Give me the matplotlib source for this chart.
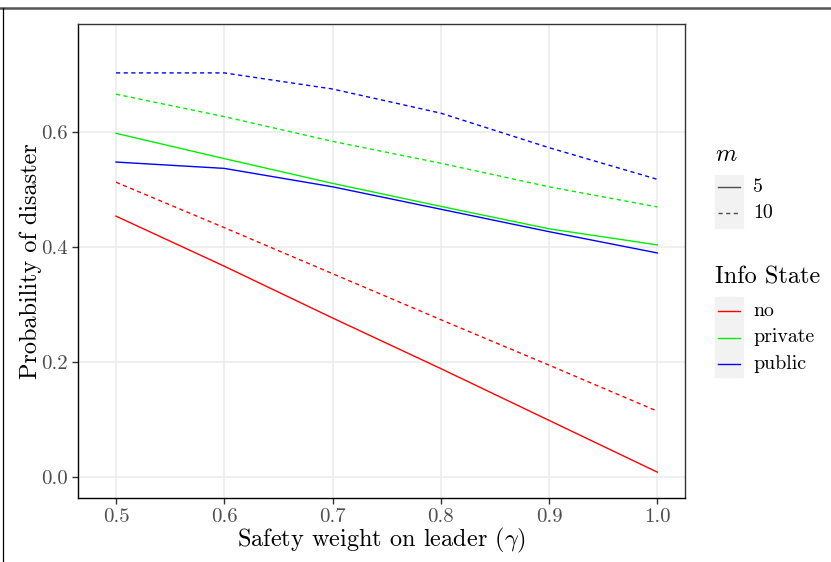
import matplotlib
matplotlib.use("Agg")
import matplotlib.pyplot as plt
from matplotlib.lines import Line2D
from matplotlib.patches import Rectangle

plt.rcParams['font.family'] = ['cmr10', 'DejaVu Serif']
plt.rcParams['mathtext.fontset'] = 'cm'
plt.rcParams['axes.formatter.use_mathtext'] = True

# data
gamma = [0.5, 0.6, 0.7, 0.8, 0.9, 1.0]
states = ['no', 'private', 'public']
m_levels = ['5', '10']
colors = {'no': '#FF0000', 'private': '#00EE00', 'public': '#0000FF'}
styles = {'5': '-', '10': (0, (3, 2.5))}

p_disaster = {
    ('no', '5'):       [0.454, 0.367, 0.277, 0.189, 0.099, 0.009],
    ('no', '10'):      [0.513, 0.434, 0.354, 0.274, 0.195, 0.115],
    ('private', '5'):  [0.598, 0.554, 0.511, 0.471, 0.432, 0.404],
    ('private', '10'): [0.666, 0.627, 0.584, 0.546, 0.505, 0.470],
    ('public', '5'):   [0.548, 0.537, 0.505, 0.466, 0.427, 0.390],
    ('public', '10'):  [0.703, 0.703, 0.675, 0.633, 0.573, 0.518],
}

W, H = 831, 562
fig = plt.figure(figsize=(W / 100, H / 100), dpi=100)
ax = fig.add_axes([77.7 / W, 1 - 498 / H, (684.7 - 77.7) / W, (498 - 24) / H])

for s in states:
    for m in m_levels:
        ax.plot(gamma, p_disaster[(s, m)], color=colors[s], linestyle=styles[m], lw=1.0)

ax.set_xlim(0.4646, 1.0253)
ax.set_ylim(-0.036, 0.788)
ax.set_xticks([0.5, 0.6, 0.7, 0.8, 0.9, 1.0])
ax.set_yticks([0.0, 0.2, 0.4, 0.6])
ax.set_xticklabels(['0.5', '0.6', '0.7', '0.8', '0.9', '1.0'])
ax.set_yticklabels(['0.0', '0.2', '0.4', '0.6'])
ax.grid(True, color='#EBEBEB', lw=1.1)
ax.set_axisbelow(True)
ax.tick_params(colors='#333333', labelcolor='#4D4D4D', labelsize=15, length=4, width=1, pad=3)
for side in ['top', 'right']:
    ax.spines[side].set_color('#333333')
    ax.spines[side].set_linewidth(1.0)
for side in ['left', 'bottom']:
    ax.spines[side].set_color('black')
    ax.spines[side].set_linewidth(1.0)

ax.set_xlabel(r'Safety weight on leader ($\gamma$)', fontsize=17.5, labelpad=0)
ax.set_ylabel('Probability of disaster', fontsize=17.5, labelpad=-0.5)


def fx(x):
    return x / W


def fy(y):
    return 1 - y / H


# outer frame
fig.add_artist(Line2D([0, 1], [fy(7.5), fy(7.5)], color='#555555', lw=1.8, transform=fig.transFigure))
fig.add_artist(Line2D([fx(3.5), fx(3.5)], [fy(7.5), 0], color='black', lw=0.9, transform=fig.transFigure))

# legend: m
fig.text(fx(715), fy(155), '$m$', fontsize=17.5, va='center', ha='left')
fig.add_artist(Rectangle((fx(715), fy(228)), fx(28), 53 / H, color='#F2F2F2', transform=fig.transFigure, zorder=0))
for i, m in enumerate(m_levels):
    yy = 187 + 26 * i
    fig.add_artist(Line2D([fx(718), fx(740)], [fy(yy), fy(yy)], color='#4D4D4D', linestyle=styles[m], lw=1.0,
                          transform=fig.transFigure))
    fig.text(fx(753), fy(yy), m, fontsize=14.3, va='center', ha='left')

# legend: info state
fig.text(fx(715), fy(277), 'Info State', fontsize=17.5, va='center', ha='left')
fig.add_artist(Rectangle((fx(715), fy(377)), fx(28), 80 / H, color='#F2F2F2', transform=fig.transFigure, zorder=0))
for i, s in enumerate(states):
    yy = 311 + 26.5 * i
    fig.add_artist(Line2D([fx(718), fx(740)], [fy(yy), fy(yy)], color=colors[s], lw=1.0,
                          transform=fig.transFigure))
    fig.text(fx(753), fy(yy), s, fontsize=14.3, va='center', ha='left')

fig.savefig('out.png', dpi=100)
